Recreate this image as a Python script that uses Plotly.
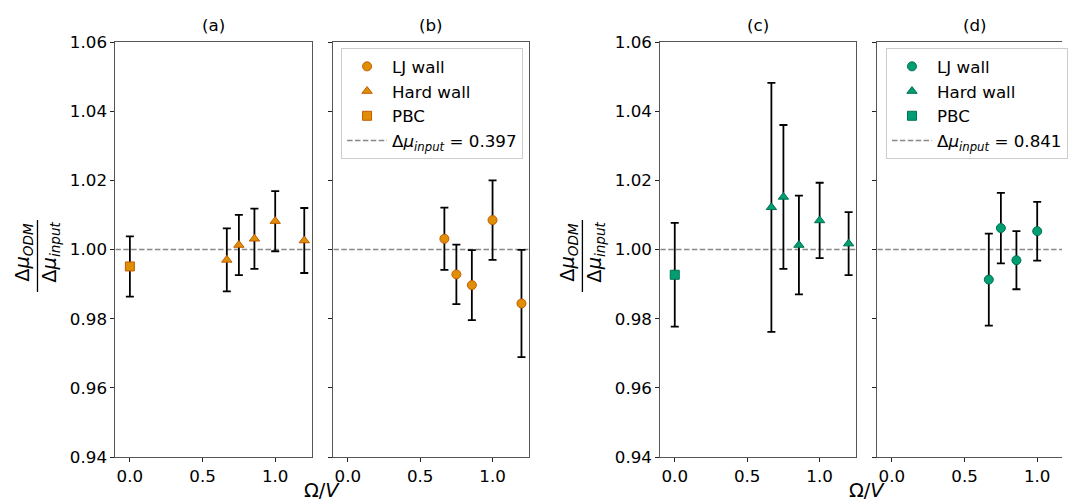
import plotly.graph_objects as go

# ---------------- data ----------------
OMEGA_V = [0.667, 0.75, 0.857, 1.0, 1.2]
PBC_X = [0.0]
REF_Y = 1.0
XLIM = [-0.1, 1.25]

# panel (a)/(b): dmu_input = 0.397
A_PBC_Y = [0.9951]
A_PBC_ERR = [0.0087]
A_HARD_Y = [0.9970, 1.0013, 1.0031, 1.0082, 1.0026]
A_HARD_ERR = [0.0091, 0.0087, 0.0087, 0.0087, 0.0094]
B_LJ_Y = [1.0031, 0.9928, 0.9897, 1.0085, 0.9844]
B_LJ_ERR = [0.0090, 0.0086, 0.0101, 0.0115, 0.0155]

# panel (c)/(d): dmu_input = 0.841
C_PBC_Y = [0.9927]
C_PBC_ERR = [0.0150]
C_HARD_Y = [1.0122, 1.0152, 1.0013, 1.0084, 1.0017]
C_HARD_ERR = [0.0360, 0.0208, 0.0143, 0.0109, 0.0091]
D_LJ_Y = [0.9913, 1.0062, 0.9969, 1.0053, 0.9851]
D_LJ_ERR = [0.0133, 0.0102, 0.0084, 0.0085, 0.0120]

DMU_1 = "0.397"
DMU_2 = "0.841"
Y_TICKS = [0.94, 0.96, 0.98, 1.00, 1.02, 1.04, 1.06]
X_TICKS = [0.0, 0.5, 1.0]
PANEL_TITLES = ["(a)", "(b)", "(c)", "(d)"]

# ---------------- style ----------------
W, H = 1068, 501
FONT = "DejaVu Sans"
FS = 16.7
FS_LAB = 19.4
ORANGE, ORANGE_E = "#DE8F05", "#C35A00"
GREEN, GREEN_E = "#029E73", "#01704F"

def px_x(p):
    return p / W

def px_y(p):
    return 1 - p / H

X_DOM = [[116, 313.3], [335.3, 531.7], [664, 860.7], [882.3, 1068]]
Y_DOM = [px_y(457), px_y(42)]

fig = go.Figure()

err_style = dict(type="data", color="black", thickness=1.8, width=4)

def add_pts(x, y, err, sym, fill, edge, name, axn, legend, show, rank, clip=True):
    fig.add_trace(go.Scatter(
        x=x, y=y, mode="markers", name=name,
        marker=dict(symbol=sym, size=9, color=fill, line=dict(color=edge, width=1)),
        error_y=dict(array=err, **err_style),
        xaxis="x" + ("" if axn == 1 else str(axn)),
        yaxis="y" + ("" if axn == 1 else str(axn)),
        legend=legend, showlegend=show, legendrank=rank,
        cliponaxis=clip,
    ))

def add_ref(axn, legend, show, text):
    fig.add_trace(go.Scatter(
        x=XLIM if axn != 4 else [XLIM[0], 1.3], y=[REF_Y, REF_Y], mode="lines", name=text,
        line=dict(color="#888888", width=1.6, dash="5.5px,2.4px"),
        xaxis="x" + ("" if axn == 1 else str(axn)),
        yaxis="y" + ("" if axn == 1 else str(axn)),
        legend=legend, showlegend=show, legendrank=4,
    ))

lbl1 = "Δ<i>μ</i><sub><i>input</i></sub> = " + DMU_1
lbl2 = "Δ<i>μ</i><sub><i>input</i></sub> = " + DMU_2

# panel a
add_ref(1, "legend", False, lbl1)
add_pts(PBC_X, A_PBC_Y, A_PBC_ERR, "square", ORANGE, ORANGE_E, "PBC", 1, "legend", True, 3)
add_pts(OMEGA_V, A_HARD_Y, A_HARD_ERR, "triangle-up", ORANGE, ORANGE_E, "Hard wall", 1, "legend", True, 2)
# panel b
add_ref(2, "legend", True, lbl1)
add_pts(OMEGA_V, B_LJ_Y, B_LJ_ERR, "circle", ORANGE, ORANGE_E, "LJ wall", 2, "legend", True, 1)
# panel c
add_ref(3, "legend2", False, lbl2)
add_pts(PBC_X, C_PBC_Y, C_PBC_ERR, "square", GREEN, GREEN_E, "PBC", 3, "legend2", True, 3)
add_pts(OMEGA_V, C_HARD_Y, C_HARD_ERR, "triangle-up", GREEN, GREEN_E, "Hard wall", 3, "legend2", True, 2)
# panel d
add_ref(4, "legend2", True, lbl2)
add_pts(OMEGA_V, D_LJ_Y, D_LJ_ERR, "circle", GREEN, GREEN_E, "LJ wall", 4, "legend2", True, 1, clip=False)

axis_common = dict(
    showline=True, linecolor="#555555", linewidth=1, ticks="outside", ticklen=4,
    tickwidth=1, tickcolor="#222222", showgrid=False, zeroline=False,
    tickfont=dict(family=FONT, size=FS, color="black"), automargin=False,
)

layout = dict(
    width=W, height=H, margin=dict(l=0, r=0, t=0, b=0),
    paper_bgcolor="white", plot_bgcolor="white",
    font=dict(family=FONT, size=FS, color="black"),
)

for i in range(4):
    n = i + 1
    xs = "xaxis" + ("" if n == 1 else str(n))
    ys = "yaxis" + ("" if n == 1 else str(n))
    xr = XLIM if n != 4 else [XLIM[0], XLIM[0] + (X_DOM[3][1] - X_DOM[3][0]) / ((X_DOM[0][1] - X_DOM[0][0]) / (XLIM[1] - XLIM[0]))]
    layout[xs] = dict(axis_common, domain=[px_x(X_DOM[i][0]), px_x(X_DOM[i][1])], range=xr,
                      tickvals=X_TICKS, ticktext=["%.1f" % v for v in X_TICKS],
                      anchor="y" + ("" if n == 1 else str(n)), mirror=True)
    layout[ys] = dict(axis_common, domain=Y_DOM, range=[Y_TICKS[0], Y_TICKS[-1]],
                      tickvals=Y_TICKS,
                      ticktext=["%.2f" % v for v in Y_TICKS],
                      showticklabels=(n in (1, 3)),
                      anchor="x" + ("" if n == 1 else str(n)), mirror=(n != 4))

legend_common = dict(
    xanchor="left", yanchor="top", bgcolor="rgba(255,255,255,0.8)",
    bordercolor="#cccccc", borderwidth=1, font=dict(family=FONT, size=FS, color="black"),
    traceorder="normal", itemwidth=40,
)
layout["legend"] = dict(legend_common, x=px_x(343), y=px_y(48))
layout["legend2"] = dict(legend_common, x=px_x(891), y=px_y(48))

fig.update_layout(**layout)

annotations = []
for i, t in enumerate(PANEL_TITLES):
    cx = (X_DOM[i][0] + (X_DOM[i][0] + 196.5)) / 2
    annotations.append(dict(text=t, x=px_x(cx), y=px_y(25), xref="paper", yref="paper",
                            showarrow=False, xanchor="center", yanchor="middle",
                            font=dict(family=FONT, size=FS, color="black")))
for left in (X_DOM[0][0], X_DOM[2][0]):
    off = left - 116
    annotations.append(dict(text="Δ<i>μ</i><sub><i>ODM</i></sub>", x=px_x(24 + off), y=px_y(252),
                            xref="paper", yref="paper", showarrow=False, textangle=-90,
                            xanchor="center", yanchor="middle",
                            font=dict(family=FONT, size=FS_LAB, color="black")))
    annotations.append(dict(text="Δ<i>μ</i><sub><i>input</i></sub>", x=px_x(51 + off), y=px_y(252),
                            xref="paper", yref="paper", showarrow=False, textangle=-90,
                            xanchor="center", yanchor="middle",
                            font=dict(family=FONT, size=FS_LAB, color="black")))
    fig.add_shape(type="line", xref="paper", yref="paper",
                  x0=px_x(37.7 + off), x1=px_x(37.7 + off), y0=px_y(220), y1=px_y(292),
                  line=dict(color="black", width=1.3))
for cx in ((X_DOM[0][0] + X_DOM[1][1]) / 2, (X_DOM[2][0] + X_DOM[2][1] + 22 + 196.5) / 2):
    annotations.append(dict(text="Ω/<i>V</i>", x=px_x(cx), y=px_y(490), xref="paper", yref="paper",
                            showarrow=False, xanchor="center", yanchor="middle",
                            font=dict(family=FONT, size=FS_LAB, color="black")))
fig.update_layout(annotations=annotations)

fig.write_html("out.html")
